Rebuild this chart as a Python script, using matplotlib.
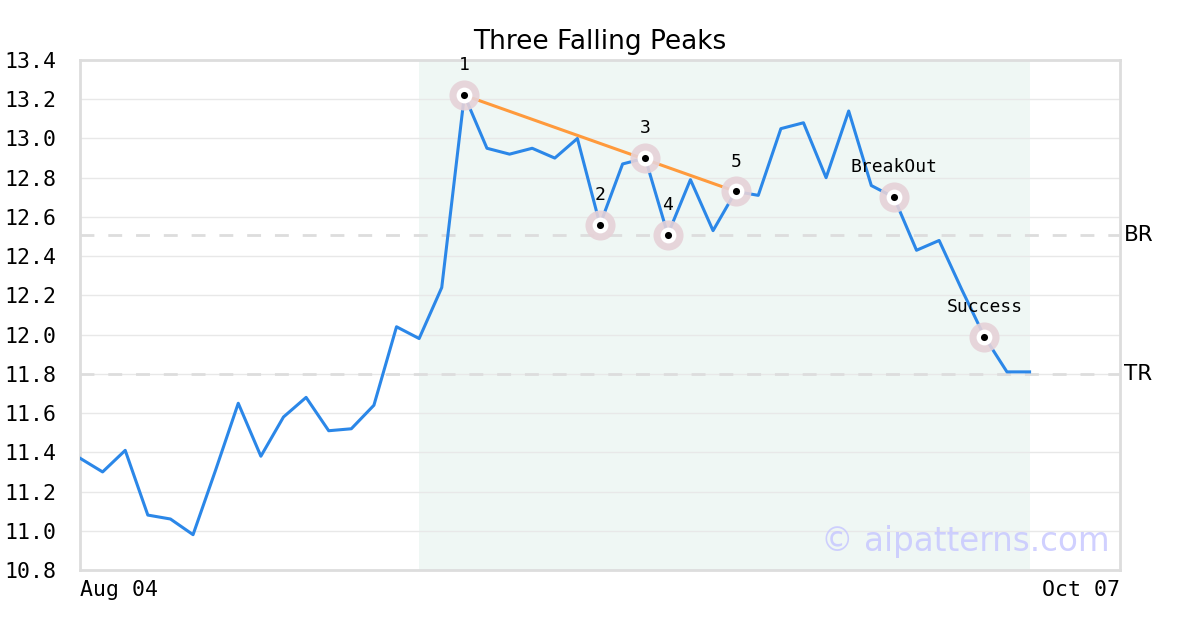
import matplotlib
matplotlib.use("Agg")
import matplotlib.pyplot as plt

# price series (one point per trading day, index positions)
prices = [11.37, 11.30, 11.41, 11.08, 11.06, 10.98, 11.31, 11.65, 11.38, 11.58,
          11.68, 11.51, 11.52, 11.64, 12.04, 11.98, 12.24, 13.22, 12.95, 12.92,
          12.95, 12.90, 13.00, 12.56, 12.87, 12.90, 12.51, 12.79, 12.53, 12.73,
          12.71, 13.05, 13.08, 12.80, 13.14, 12.76, 12.70, 12.43, 12.48, 12.23,
          11.99, 11.81, 11.81]

# pattern points
mark_idx = [17, 23, 25, 26, 29, 36, 40]
mark_labels = ["1", "2", "3", "4", "5", "BreakOut", "Success"]
trend_idx = [17, 29]

shade_start, shade_end = 15, 42
br_level = 12.51
tr_level = 11.80
x_labels = ["Aug 04", "Oct 07"]

BLUE = "#2b87e8"
ORANGE = "#ff9a3c"
HALO = "#e6d2d8"
MONO = "DejaVu Sans Mono"

fig = plt.figure(figsize=(12, 6.3), dpi=100)
ax = fig.add_axes([80 / 1200, 60 / 630, 1040 / 1200, 510 / 630])

xs = list(range(len(prices)))
ax.axvspan(shade_start, shade_end, color="#eff7f4", zorder=0, lw=0)

yt = [10.8 + 0.2 * i for i in range(14)]
for y in yt[1:-1]:
    ax.axhline(y, color="#e8e8e8", lw=1, zorder=1)

ax.axhline(br_level, color="#dddddd", lw=2, ls=(0, (5, 5)), zorder=1)
ax.axhline(tr_level, color="#dddddd", lw=2, ls=(0, (5, 5)), zorder=1)

ax.plot(xs, prices, color=BLUE, lw=2.2, zorder=3)
ax.plot(trend_idx, [prices[i] for i in trend_idx], color=ORANGE, lw=2.2, zorder=4)

mx = mark_idx
my = [prices[i] for i in mark_idx]
ax.scatter(mx, my, s=470, color=HALO, alpha=0.9, lw=0, zorder=5)
ax.scatter(mx, my, s=130, color="white", lw=0, zorder=6)
ax.scatter(mx, my, s=26, color="black", lw=0, zorder=7)

for i, lab in zip(mark_idx, mark_labels):
    ax.annotate(lab, (i, prices[i]), xytext=(0, 15), textcoords="offset points",
                ha="center", va="bottom", fontsize=13, family=MONO)

ax.set_xlim(0, 46)
ax.set_ylim(10.8, 13.4)
ax.set_yticks(yt)
ax.set_yticklabels([f"{y:.1f}" for y in yt], family=MONO, fontsize=15.5)
ax.set_xticks([0, 46])
ax.set_xticklabels(x_labels, family=MONO, fontsize=15.5)
ax.get_xticklabels()[0].set_ha("left")
ax.get_xticklabels()[1].set_ha("right")
ax.tick_params(axis="y", length=0, pad=17)
ax.tick_params(axis="x", length=0, pad=7)
for sp in ax.spines.values():
    sp.set_color("#dddddd")
    sp.set_linewidth(2)

ax.text(1.004, br_level, "BR", transform=ax.get_yaxis_transform(), va="center",
        ha="left", fontsize=15.5)
ax.text(1.004, tr_level, "TR", transform=ax.get_yaxis_transform(), va="center",
        ha="left", fontsize=15.5)

ax.set_title("Three Falling Peaks", fontsize=19, pad=8)
ax.text(0.99, 0.055, "© aipatterns.com", transform=ax.transAxes, ha="right",
        va="center", fontsize=23.5, color="#c8c8ff", alpha=0.85, zorder=8)

fig.savefig("out.png", dpi=100, facecolor="white")
